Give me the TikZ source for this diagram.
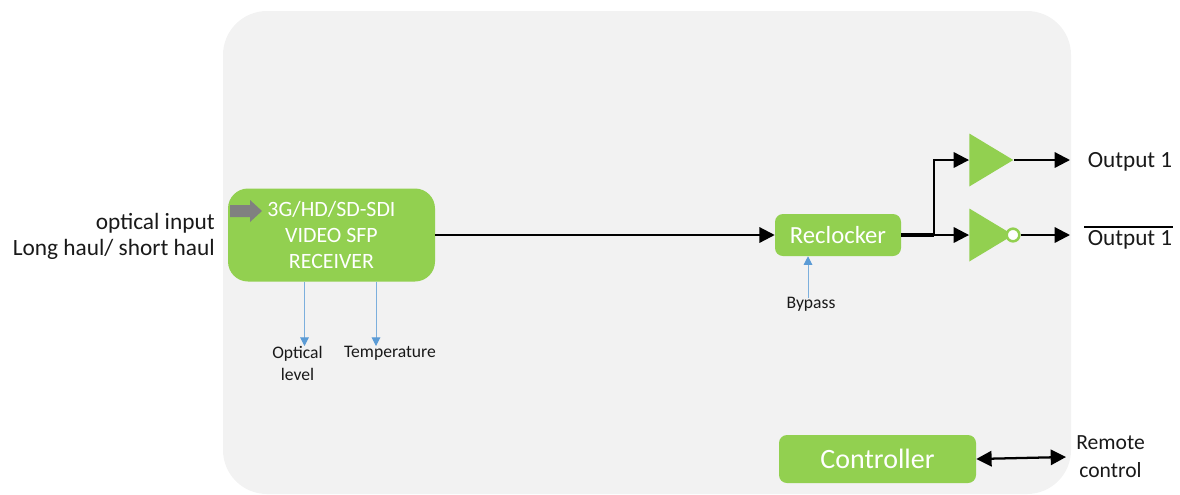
\documentclass[tikz,border=0pt]{standalone}
\usepackage{fontspec}
\setmainfont{Carlito}
\usetikzlibrary{arrows.meta}
\usetikzlibrary{shapes.geometric}
\definecolor{panelgray}{HTML}{F2F2F2}
\definecolor{blockgreen}{HTML}{92D050}
\definecolor{sensblue}{HTML}{5B9BD5}
\tikzset{
	block/.style={fill=blockgreen, text=white, inner sep=0pt, align=center},
	driver/.style={isosceles triangle, isosceles triangle stretches, fill=blockgreen, inner sep=0pt, minimum width=39.75pt, minimum height=33pt},
	sig/.style={line width=1.7pt, -{Triangle[length=11.5pt,width=11.5pt]}},
	sens/.style={sensblue!80, line width=0.75pt, -{Triangle[length=6.5pt,width=6.5pt,sensblue]}},
	lab/.style={inner sep=0pt, align=center, text=black!90},
	small/.style={font=\fontsize{13.2}{16}\selectfont}
}
\begin{document}
\begin{tikzpicture}[x=0.75pt,y=-0.75pt]
	\useasboundingbox (0,0) rectangle (1180,494);
	\fill[panelgray, rounded corners=33pt] (223,11) rectangle (1071,494);
	\node[block, rounded corners=15pt, minimum width=155.25pt, minimum height=69.75pt, font=\fontsize{16.4}{19.6}\selectfont] (recv) at (331.5,235) {3G/HD/SD-SDI\\VIDEO SFP\\RECEIVER};
	\fill[black!50] (230,205) -- (250,205) -- (250,200) -- (262,211) -- (250,222) -- (250,217) -- (230,217) -- cycle;
	\node[block, rounded corners=6pt, minimum width=94.5pt, minimum height=31.5pt, font=\fontsize{18.5}{22}\selectfont] (reclk) at (838,235) {Reclocker};
	\node[block, rounded corners=6pt, minimum width=147.75pt, minimum height=36pt, font=\fontsize{21}{25}\selectfont] (ctrl) at (877.5,459) {Controller};
	\node[driver, anchor=apex] (buf1) at (1014,160) {};
	\node[driver, anchor=apex] (buf2) at (1014,235) {};
	\node[circle, draw=blockgreen, fill=white, line width=1.9pt, minimum size=9.5pt, inner sep=0pt] (bubble) at (1013,235) {};
	\node[lab, anchor=east, font=\fontsize{17.5}{19.6}\selectfont, align=right] (optin) at (215,236.5) {optical input\\Long haul/ short haul};
	\node[lab, font=\fontsize{17.4}{21}\selectfont] (out1) at (1130,162) {Output 1};
	\node[lab, font=\fontsize{17.4}{21}\selectfont] (out2) at (1130,240) {Output 1};
	\node[lab, small] (optlev) at (297.5,363.5) {Optical\\level};
	\node[lab, small] (temp) at (390,353) {Temperature};
	\node[lab, small] (byp) at (811,304) {Bypass};
	\node[lab, font=\fontsize{16.2}{21}\selectfont] (remote) at (1110.5,456.5) {Remote\\control};
	\coordinate (fork) at (934,235);
	\coordinate (out1 end) at (1070,160);
	\coordinate (out2 end) at (1070,235);
	\coordinate (opt end) at (304.5,346);
	\coordinate (temp end) at (376,346);
	\coordinate (byp start) at (808,298);
	\coordinate (rem end) at (1066,457);
	\draw[sig] (recv.east |- reclk.west) -- (reclk.west);
	\draw[line width=2.4pt] (reclk.east) -- (fork);
	\draw[sig] (fork) -- (buf2.lower side);
	\draw[sig] (fork) |- (buf1.lower side);
	\draw[sig] (buf1.apex) -- (out1 end);
	\draw[sig] (bubble.east) -- (out2 end);
	\draw[line width=1.5pt] (1084,226.5) -- (1173,226.5);
	\draw[sens] (recv.south -| opt end) -- (opt end);
	\draw[sens] (recv.south -| temp end) -- (temp end);
	\draw[sens] (byp start) -- (byp start |- reclk.south);
	\draw[line width=1.7pt, {Triangle[length=11.5pt,width=11.5pt]}-{Triangle[length=11.5pt,width=11.5pt]}] (ctrl.east) -- (rem end);
\end{tikzpicture}
\end{document}
